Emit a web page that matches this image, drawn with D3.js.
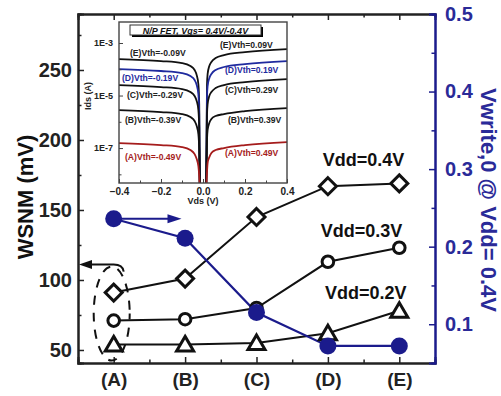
<!DOCTYPE html>
<html><head><meta charset="utf-8">
<script src="https://cdn.jsdelivr.net/npm/d3@7"></script>
<style>
body{margin:0;background:#fff;}
svg{display:block;font-family:"Liberation Sans",Arial,sans-serif;font-weight:bold;}
</style></head><body>
<svg id="c" width="501" height="396"></svg>
<script>
// ---- main chart data ----
const categories = ["(A)", "(B)", "(C)", "(D)", "(E)"];
const wsnmVdd04 = [91, 101, 145, 167, 169];
const wsnmVdd03 = [71, 72, 80, 113, 123];
const wsnmVdd02 = [54, 54, 55, 62, 78];
const vwrite0 = [0.236, 0.211, 0.115, 0.072, 0.072];
const seriesLabels = ["Vdd=0.4V", "Vdd=0.3V", "Vdd=0.2V"];
const leftTicks = [50, 100, 150, 200, 250];
const rightTicks = [0.1, 0.2, 0.3, 0.4, 0.5];

// ---- inset data (Ids vs Vds) ----
const vdsP = [-0.4, -0.2, -0.1, -0.06, -0.04, -0.03, -0.022, -0.018, -0.015];
const vdsN = [0.015, 0.019, 0.022, 0.03, 0.04, 0.06, 0.1, 0.2, 0.4];
const idsE_P = [2.45e-4, 2.06e-4, 1.73e-4, 1.33e-4, 9.4e-5, 6.0e-5, 2.7e-5, 4.7e-6, 2.5e-9];
const idsD_P = [1.02e-4, 8.6e-5, 7.2e-5, 5.5e-5, 3.9e-5, 2.5e-5, 1.14e-5, 2.0e-6, 2.5e-9];
const idsC_P = [2.5e-5, 2.1e-5, 1.77e-5, 1.36e-5, 9.6e-6, 6.2e-6, 2.8e-6, 5.8e-7, 2.5e-9];
const idsB_P = [2.8e-6, 2.35e-6, 1.97e-6, 1.52e-6, 1.07e-6, 6.9e-7, 3.4e-7, 8.4e-8, 2.5e-9];
const idsA_P = [1.55e-7, 1.30e-7, 1.09e-7, 8.4e-8, 5.9e-8, 3.8e-8, 2.06e-8, 8.6e-9, 2.5e-9];
const idsE_N = [2.5e-9, 2.5e-5, 6.6e-5, 1.33e-4, 1.89e-4, 2.68e-4, 3.49e-4, 4.54e-4, 5.9e-4];
const idsD_N = [2.5e-9, 8.8e-6, 2.3e-5, 4.6e-5, 6.6e-5, 9.4e-5, 1.22e-4, 1.58e-4, 2.06e-4];
const idsC_N = [2.5e-9, 1.81e-6, 4.7e-6, 9.6e-6, 1.36e-5, 1.93e-5, 2.5e-5, 3.27e-5, 4.25e-5];
const idsB_N = [2.5e-9, 2.0e-7, 4.9e-7, 9.0e-7, 1.27e-6, 1.66e-6, 1.97e-6, 2.57e-6, 3.34e-6];
const idsA_N = [2.5e-9, 1.22e-8, 2.7e-8, 4.5e-8, 6.5e-8, 8.4e-8, 1.0e-7, 1.30e-7, 1.69e-7];
const vthP = ["(E)Vth=-0.09V", "(D)Vth=-0.19V", "(C)Vth=-0.29V", "(B)Vth=-0.39V", "(A)Vth=-0.49V"];
const vthN = ["(E)Vth=0.09V", "(D)Vth=0.19V", "(C)Vth=0.29V", "(B)Vth=0.39V", "(A)Vth=0.49V"];
const insetXTicks = [-0.4, -0.2, 0.0, 0.2, 0.4];
const insetYTicks = [1e-3, 1e-5, 1e-7];
const insetTitle = "N/P FET, Vgs= 0.4V/-0.4V";

const BLUE = "#1b1b8c", BLUE_T = "#2a2a98", RED = "#a51c1c", INK = "#111";

const svg = d3.select("#c");
const L = 78, R = 435, T = 14, B = 363;
const x = d3.scaleLinear().domain([-0.5, 4.5]).range([L, R]);
const yL = d3.scaleLinear().domain([40.7, 290]).range([B, T]);
const yR = d3.scaleLinear().domain([0.05, 0.5]).range([B, T]);

// ---- axes ----
const gB = svg.append("g").attr("transform", `translate(0,${B})`)
  .call(d3.axisBottom(x).tickValues([0,1,2,3,4]).tickSize(-6).tickPadding(10).tickFormat(i => categories[i]));
const gBm = svg.append("g").attr("transform", `translate(0,${B})`)
  .call(d3.axisBottom(x).tickValues([0.5,1.5,2.5,3.5]).tickSize(-3.5).tickFormat(""));
const gT = svg.append("g").attr("transform", `translate(0,${T})`)
  .call(d3.axisTop(x).tickValues([0,1,2,3,4]).tickSize(-6).tickFormat(""));
const gTm = svg.append("g").attr("transform", `translate(0,${T})`)
  .call(d3.axisTop(x).tickValues([0.5,1.5,2.5,3.5]).tickSize(-3.5).tickFormat(""));
const gL = svg.append("g").attr("transform", `translate(${L},0)`)
  .call(d3.axisLeft(yL).tickValues(leftTicks).tickSize(-6).tickPadding(6).tickFormat(d3.format("d")));
const gLm = svg.append("g").attr("transform", `translate(${L},0)`)
  .call(d3.axisLeft(yL).tickValues([75,125,175,225,275]).tickSize(-3.5).tickFormat(""));
const gR = svg.append("g").attr("transform", `translate(${R},0)`)
  .call(d3.axisRight(yR).tickValues(rightTicks).tickSize(-6).tickPadding(10).tickFormat(d3.format(".1f")));
const gRm = svg.append("g").attr("transform", `translate(${R},0)`)
  .call(d3.axisRight(yR).tickValues([0.15,0.25,0.35,0.45]).tickSize(-3.5).tickFormat(""));

[gB,gBm,gT,gTm,gL,gLm].forEach(g => {
  g.selectAll("path.domain").attr("stroke", "#222").attr("stroke-width", 2);
  g.selectAll("line").attr("stroke", "#222").attr("stroke-width", 1.5);
});
[gR,gRm].forEach(g => {
  g.selectAll("path.domain").attr("stroke", BLUE).attr("stroke-width", 2);
  g.selectAll("line").attr("stroke", BLUE).attr("stroke-width", 1.5);
});
svg.selectAll(".tick text").attr("font-weight", "bold").attr("font-family", "Liberation Sans, Arial");
gL.selectAll("text").attr("font-size", 20).attr("fill", "#222");
gR.selectAll("text").attr("font-size", 20).attr("fill", BLUE_T);
gB.selectAll("text").attr("font-size", 19).attr("fill", "#222");

// axis titles
svg.append("text").attr("transform", `translate(33,197) rotate(-90)`).attr("text-anchor", "middle")
  .attr("font-size", 22).attr("fill", "#111").text("WSNM (mV)");
svg.append("text").attr("transform", `translate(481,200) rotate(90)`).attr("text-anchor", "middle")
  .attr("font-size", 22).attr("fill", BLUE_T).text("Vwrite,0 @ Vdd= 0.4V");

// ---- annotations: dashed ellipse & arrows ----
svg.append("ellipse").attr("cx", x(0) - 2).attr("cy", yL(76)).attr("rx", 18).attr("ry", 47)
  .attr("fill", "none").attr("stroke", INK).attr("stroke-width", 2).attr("stroke-dasharray", "9,8")
  .attr("stroke-dashoffset", 3);
const ay = yL(111);
svg.append("path").attr("d", `M${x(0)+10},${ay+7} Q${x(0)+9},${ay} ${x(0)},${ay} L${L+11},${ay}`)
  .attr("fill", "none").attr("stroke", INK).attr("stroke-width", 2);
svg.append("path").attr("d", `M${L+1},${ay} L${L+14},${ay-4.5} L${L+14},${ay+4.5} Z`).attr("fill", INK);
const by = yR(vwrite0[0]);
svg.append("path").attr("d", `M${x(0)},${by} L${x(0.95)-12},${by}`)
  .attr("stroke", BLUE).attr("stroke-width", 2);
svg.append("path").attr("d", `M${x(0.95)},${by} L${x(0.95)-14},${by-4.5} L${x(0.95)-14},${by+4.5} Z`).attr("fill", BLUE);

// ---- black series ----
const idx = [0,1,2,3,4];
const lineL = d3.line().x((d,i) => x(i)).y(d => yL(d));
[wsnmVdd04, wsnmVdd03, wsnmVdd02].forEach(s => {
  svg.append("path").datum(s).attr("d", lineL).attr("fill", "none").attr("stroke", INK).attr("stroke-width", 2);
});
// blue series line
const lineR = d3.line().x((d,i) => x(i)).y(d => yR(d));
svg.append("path").datum(vwrite0).attr("d", lineR).attr("fill", "none").attr("stroke", BLUE).attr("stroke-width", 2.2);

const diamond = "M0,-8.5 L8.5,0 L0,8.5 L-8.5,0 Z";
const tri = "M0,-8 L8.5,6.5 L-8.5,6.5 Z";
svg.selectAll(".dia").data(wsnmVdd04).join("path").attr("d", diamond)
  .attr("transform", (d,i) => `translate(${x(i)},${yL(d)})`)
  .attr("fill", "#fff").attr("stroke", INK).attr("stroke-width", 3).attr("stroke-linejoin", "miter");
svg.selectAll(".cir").data(wsnmVdd03).join("circle").attr("cx", (d,i) => x(i)).attr("cy", d => yL(d)).attr("r", 5.8)
  .attr("fill", "#fff").attr("stroke", INK).attr("stroke-width", 3);
svg.selectAll(".tri").data(wsnmVdd02).join("path").attr("d", tri)
  .attr("transform", (d,i) => `translate(${x(i)},${yL(d)})`)
  .attr("fill", "#fff").attr("stroke", INK).attr("stroke-width", 3).attr("stroke-linejoin", "miter");
svg.selectAll(".bc").data(vwrite0).join("circle").attr("cx", (d,i) => x(i)).attr("cy", d => yR(d)).attr("r", 8.5)
  .attr("fill", BLUE);

// series labels
svg.append("text").attr("x", x(3.5)).attr("y", yL(167) - 20).attr("text-anchor", "middle").attr("font-size", 18).attr("fill", INK).text(seriesLabels[0]);
svg.append("text").attr("x", x(3.47)).attr("y", yL(167) + 51).attr("text-anchor", "middle").attr("font-size", 18).attr("fill", INK).text(seriesLabels[1]);
svg.append("text").attr("x", x(3.53)).attr("y", yL(167) + 113).attr("text-anchor", "middle").attr("font-size", 18).attr("fill", INK).text(seriesLabels[2]);

// ---- inset ----
const iL = 119, iR = 287, iT = 22, iB = 183;
const ix = d3.scaleLinear().domain([-0.4, 0.4]).range([iL, iR]);
const iy = d3.scaleLog().domain([Math.pow(10,-8.33), Math.pow(10,-2.2)]).range([iB, iT]);
const inset = svg.append("g");
inset.append("rect").attr("x", iL).attr("y", iT).attr("width", iR-iL).attr("height", iB-iT).attr("fill", "#fff");
inset.append("clipPath").attr("id", "ic").append("rect").attr("x", iL).attr("y", iT).attr("width", iR-iL).attr("height", iB-iT);

const curvesP = [idsE_P, idsD_P, idsC_P, idsB_P, idsA_P];
const curvesN = [idsE_N, idsD_N, idsC_N, idsB_N, idsA_N];
const cCol = [INK, "#1f2a9e", INK, INK, RED];
const iline = d3.line().curve(d3.curveMonotoneX);
const cg = inset.append("g").attr("clip-path", "url(#ic)");
curvesP.forEach((c,k) => {
  cg.append("path").attr("d", iline(vdsP.map((v,i) => [ix(v), iy(c[i])])))
    .attr("fill", "none").attr("stroke", cCol[k]).attr("stroke-width", 1.8);
  cg.append("path").attr("d", iline(vdsN.map((v,i) => [ix(v), iy(curvesN[k][i])])))
    .attr("fill", "none").attr("stroke", cCol[k]).attr("stroke-width", 1.8);
});

// inset axes
const giB = inset.append("g").attr("transform", `translate(0,${iB})`)
  .call(d3.axisBottom(ix).tickValues(insetXTicks).tickSize(-4).tickPadding(5).tickFormat(d3.format(".1f")));
const giBm = inset.append("g").attr("transform", `translate(0,${iB})`)
  .call(d3.axisBottom(ix).tickValues([-0.3,-0.1,0.1,0.3]).tickSize(-2.5).tickFormat(""));
const giL = inset.append("g").attr("transform", `translate(${iL},0)`)
  .call(d3.axisLeft(iy).tickValues(insetYTicks).tickSize(-4).tickPadding(6).tickFormat(d => "1E" + Math.round(Math.log10(d))));
const giLm = inset.append("g").attr("transform", `translate(${iL},0)`)
  .call(d3.axisLeft(iy).tickValues([1e-4,1e-6,1e-8]).tickSize(-2.5).tickFormat(""));
inset.append("rect").attr("x", iL).attr("y", iT).attr("width", iR-iL).attr("height", iB-iT)
  .attr("fill", "none").attr("stroke", "#444").attr("stroke-width", 1.4);
[giB,giBm,giL,giLm].forEach(g => {
  g.selectAll("path.domain").remove();
  g.selectAll("line").attr("stroke", "#444").attr("stroke-width", 1);
  g.selectAll("text").attr("font-size", 10).attr("font-weight", "bold").attr("fill", "#222");
});
giL.selectAll("text").attr("font-size", 9);
inset.append("text").attr("x", ix(0)).attr("y", 204).attr("text-anchor", "middle").attr("font-size", 9).attr("fill", "#222").text("Vds (V)");
inset.append("text").attr("transform", `translate(91,96) rotate(-90)`).attr("text-anchor", "middle").attr("font-size", 9).attr("fill", "#222").text("Ids (A)");

// inset curve labels
const lpX = [130, 122, 127, 125, 125], lpY = [53, 78, 95, 120, 157];
const lnX = [220, 225, 225, 228, 225], lnY = [45, 70, 90, 120, 153];
vthP.forEach((t,k) => inset.append("text").attr("x", lpX[k]).attr("y", lpY[k] + 3).attr("font-size", 8.6)
  .attr("fill", k === 1 ? "#1f2a9e" : k === 4 ? RED : "#222").text(t));
vthN.forEach((t,k) => inset.append("text").attr("x", lnX[k]).attr("y", lnY[k] + 3).attr("font-size", 8.6)
  .attr("fill", k === 1 ? "#1f2a9e" : k === 4 ? RED : "#222").text(t));

// inset title box
inset.append("rect").attr("x", 132).attr("y", 27).attr("width", 131).attr("height", 10).attr("fill", "#000");
inset.append("rect").attr("x", 130).attr("y", 25).attr("width", 131).attr("height", 10).attr("fill", "#fff")
  .attr("stroke", "#333").attr("stroke-width", 1);
inset.append("text").attr("x", 195.5).attr("y", 33.5).attr("text-anchor", "middle").attr("font-size", 9)
  .attr("font-style", "italic").attr("fill", "#111").text(insetTitle);
</script>
</body></html>
